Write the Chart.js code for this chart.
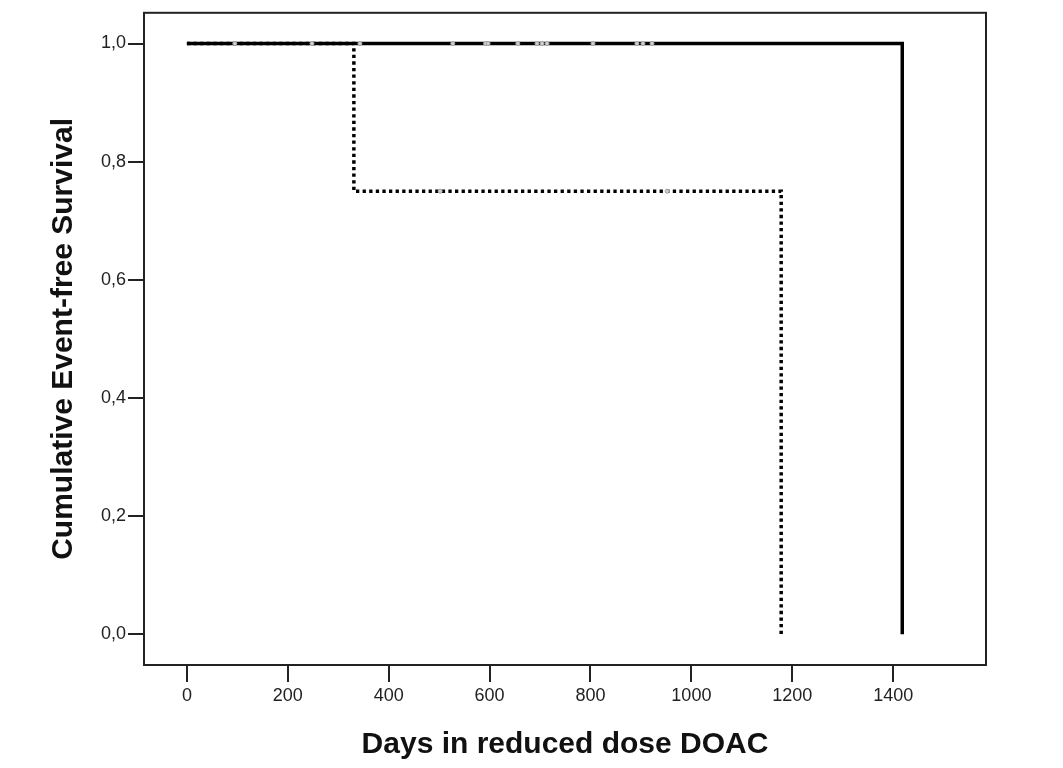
<!DOCTYPE html>
<html>
<head>
<meta charset="utf-8">
<script src="https://cdn.jsdelivr.net/npm/chart.js@4/dist/chart.umd.min.js"></script>
<style>
  html, body { margin: 0; padding: 0; background: #fff; }
  #wrap { width: 1063px; height: 768px; }
</style>
</head>
<body>
<div id="wrap"><canvas id="km"></canvas></div>
<script>
// Kaplan-Meier steps (days, cumulative survival)
const solidDays = [0, 1418];
const solidSurv = [1, 0];
const dottedDays = [0, 331, 1178];
const dottedSurv = [1, 0.75, 0];

// censored cases
const solidCensorDays = [343, 527, 592, 597, 656, 694, 704, 714, 805, 892, 904, 922];
const solidCensorSurv = [1, 1, 1, 1, 1, 1, 1, 1, 1, 1, 1, 1];
const dottedCensorDays = [95, 248, 502, 952];
const dottedCensorSurv = [1, 1, 0.75, 0.75];

const xTicks = [0, 200, 400, 600, 800, 1000, 1200, 1400];
const yTicks = [0, 0.2, 0.4, 0.6, 0.8, 1.0];

const toPoints = (xs, ys) => xs.map((x, i) => ({ x: x, y: ys[i] }));

const FONT = "'Liberation Sans', Arial, sans-serif";

// box around the plot area
const frame = {
    id: 'frame',
    afterDraw(chart) {
        const { ctx, chartArea: a } = chart;
        ctx.save();
        ctx.strokeStyle = '#222';
        ctx.lineWidth = 2;
        ctx.strokeRect(a.left, a.top, a.right - a.left, a.bottom - a.top);
        ctx.restore();
    }
};

new Chart(document.getElementById('km'), {
    type: 'scatter',
    data: {
        datasets: [
            {
                label: 'dotted censored',
                data: toPoints(dottedCensorDays, dottedCensorSurv),
                showLine: false,
                pointStyle: 'circle',
                pointRadius: 2,
                backgroundColor: '#d0d0d0',
                borderColor: '#a0a0a0',
                borderWidth: 1
            },
            {
                label: 'solid censored',
                data: toPoints(solidCensorDays, solidCensorSurv),
                showLine: false,
                pointStyle: 'circle',
                pointRadius: 2,
                backgroundColor: '#d0d0d0',
                borderColor: '#a0a0a0',
                borderWidth: 1
            },
            {
                label: 'dotted',
                data: toPoints(dottedDays, dottedSurv),
                showLine: true,
                stepped: 'before',
                borderColor: '#000',
                borderWidth: 3.5,
                borderDash: [3.3, 3.3],
                borderCapStyle: 'butt',
                pointRadius: 0
            },
            {
                label: 'solid',
                data: toPoints(solidDays, solidSurv),
                showLine: true,
                stepped: 'before',
                borderColor: '#000',
                borderWidth: 3.5,
                pointRadius: 0
            }
        ]
    },
    options: {
        responsive: true,
        maintainAspectRatio: false,
        animation: false,
        layout: { padding: { top: 12, right: 77, left: 0, bottom: 0 } },
        plugins: {
            legend: { display: false },
            tooltip: { enabled: false }
        },
        scales: {
            x: {
                type: 'linear',
                min: -85,
                max: 1584,
                afterBuildTicks: (scale) => { scale.ticks = xTicks.map(v => ({ value: v })); },
                afterFit: (scale) => { scale.height = 103; },
                border: { display: false },
                grid: {
                    drawOnChartArea: false,
                    drawTicks: true,
                    tickLength: 17,
                    color: '#222',
                    lineWidth: 2
                },
                ticks: {
                    color: '#222',
                    padding: 3,
                    font: { family: FONT, size: 18 },
                    callback: (v) => v
                },
                title: {
                    display: true,
                    text: 'Days in reduced dose DOAC',
                    color: '#111',
                    font: { family: FONT, size: 30, weight: 'bold' },
                    padding: { top: 0, bottom: 5 }
                }
            },
            y: {
                type: 'linear',
                min: -0.052,
                max: 1.052,
                afterBuildTicks: (scale) => { scale.ticks = yTicks.map(v => ({ value: v })); },
                afterFit: (scale) => { scale.width = 144; },
                border: { display: false },
                grid: {
                    drawOnChartArea: false,
                    drawTicks: true,
                    tickLength: 16,
                    color: '#222',
                    lineWidth: 2
                },
                ticks: {
                    color: '#222',
                    padding: 2,
                    font: { family: FONT, size: 18 },
                    callback: (v) => v.toFixed(1).replace('.', ',')
                },
                title: {
                    display: true,
                    text: 'Cumulative Event-free Survival',
                    color: '#111',
                    font: { family: FONT, size: 30, weight: 'bold' },
                    padding: { top: 46, bottom: 0 }
                }
            }
        }
    },
    plugins: [frame]
});
</script>
</body>
</html>
